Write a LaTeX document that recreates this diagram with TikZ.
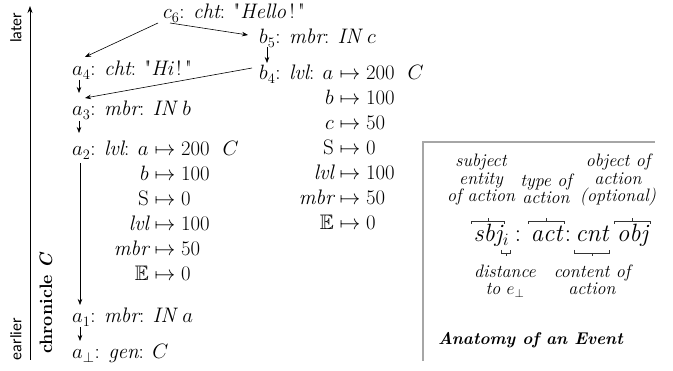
\documentclass[tikz,border=0pt]{standalone}
\usepackage{amsmath,amssymb}
\usepackage{fontspec}
\newfontfamily\carlito{Carlito}
\usetikzlibrary{arrows.meta,calc}
\newcommand\mi[1]{\mathit{#1}}
\newcommand\qt{\text{\textquotedbl}}
\newcommand\ovbr[1]{\draw[br] ($(#1.west|-ob)+(-2,3)$) -- ++(0,-3) -- ($(#1.east|-ob)+(2,0)$) -- ++(0,3); \draw[br] (#1.center|-ob) -- ++(0,-3);}
\newcommand\unbr[1]{\draw[br] ($(#1.west|-ub)+(-1,-3)$) -- ++(0,3) -- ($(#1.east|-ub)+(1,0)$) -- ++(0,-3); \draw[br] (#1.center|-ub) -- ++(0,3);}
\begin{document}
\begin{tikzpicture}[x=1pt,y=-1pt,
  ev/.style={anchor=base west, inner sep=0pt, font=\fontsize{21}{25}\selectfont},
  conn/.style={-{Stealth[length=6pt,width=4.5pt]}, line width=0.6pt},
  note/.style={inner sep=0pt, align=center, font=\itshape\fontsize{18}{17.5}\selectfont},
  fm/.style={anchor=base, inner sep=0pt, font=\fontsize{25}{25}\selectfont},
  br/.style={line width=0.6pt, black!80},
  side/.style={rotate=90, inner sep=0pt}]
\useasboundingbox (0,0) rectangle (673,371);

% time axis
\coordinate (axb) at (30,360);
\coordinate (axt) at (30,6);
\draw[-{Stealth[length=7pt,width=5pt]}, line width=0.8pt] (axb) -- (axt);
\node[side, font=\carlito\fontsize{16}{16}\selectfont] (later) at (16,28) {later};
\node[side, font=\carlito\fontsize{16}{16}\selectfont] (earlier) at (16,339) {earlier};
\node[side, font=\bfseries\fontsize{18}{18}\selectfont] (chron) at (46,303) {chronicle \textit{C}};

% events
\node[ev] (c6) at (163,19) {$c_6$: $\mi{cht}$: $\qt\mi{Hello}\,!\,\qt$};
\node[ev] (b5) at (259,44) {$b_5$: $\mi{mbr}$: $\mi{IN}\ c$};
\node[ev] (a4) at (72,76) {$a_4$: $\mi{cht}$: $\qt\mi{Hi}\,!\,\qt$};
\node[ev] (b4) at (259,80) {$b_4$: $\mi{lvl}$: $a$};
\node[ev] (b4m) at (b4.base east) {\begin{tabular}[t]{@{}l@{}}
  ${}\mapsto 200\hspace{13pt}C$\\
  \llap{$b$}${}\mapsto 100$\\
  \llap{$c$}${}\mapsto 50$\\
  \llap{$\mathrm{S}$}${}\mapsto 0$\\
  \llap{$\mi{lvl}$}${}\mapsto 100$\\
  \llap{$\mi{mbr}$}${}\mapsto 50$\\
  \llap{$\mathbb{E}$}${}\mapsto 0$
\end{tabular}};
\node[ev] (a3) at (72,116) {$a_3$: $\mi{mbr}$: $\mi{IN}\ b$};
\node[ev] (a2) at (72,156) {$a_2$: $\mi{lvl}$: $a$};
\node[ev] (a2m) at (a2.base east) {\begin{tabular}[t]{@{}l@{}}
  ${}\mapsto 200\hspace{13pt}C$\\
  \llap{$b$}${}\mapsto 100$\\
  \llap{$\mathrm{S}$}${}\mapsto 0$\\
  \llap{$\mi{lvl}$}${}\mapsto 100$\\
  \llap{$\mi{mbr}$}${}\mapsto 50$\\
  \llap{$\mathbb{E}$}${}\mapsto 0$
\end{tabular}};
\node[ev] (a1) at (72,323) {$a_1$: $\mi{mbr}$: $\mi{IN}\ a$};
\node[ev] (a0) at (72,359) {$a_\bot$: $\mi{gen}$: $C$};

% connectors
\draw[conn] ([shift={(-5,4)}]c6.base west) -- ([shift={(13,-19)}]a4.base west);
\draw[conn] ([shift={(7,4)}]c6.base west) -- ([shift={(-11,-9)}]b5.base west);
\draw[conn] ([shift={(8,3)}]b5.base west) -- ([shift={(8,-17)}]b4.base west);
\draw[conn] ([shift={(-7,-12)}]b4.base west) -- ([shift={(13,-18)}]a3.base west);
\draw[conn] ([shift={(7,4)}]a4.base west) -- ([shift={(7,-23)}]a3.base west);
\draw[conn] ([shift={(7,5)}]a3.base west) -- ([shift={(7,-23)}]a2.base west);
\draw[conn] ([shift={(8,7)}]a2.base west) -- ([shift={(8,-18)}]a1.base west);
\draw[conn] ([shift={(8,4)}]a1.base west) -- ([shift={(8,-18)}]a0.base west);

% anatomy box
\coordinate (bxb) at (423,361);
\coordinate (bxc) at (423,142);
\coordinate (bxr) at (655,142);
\draw[black!35, line width=1.2pt] (bxb) -- (bxc) -- (bxr);

\node[note] (subj) at (481,180) {subject\\entity\\of action};
\node[note] (typ) at (546,189) {type of\\action};
\node[note] (objn) at (618,180) {object of\\action\\(optional)};

\node[fm] (sbj) at (488,242) {$\mi{sbj}$};
\node[fm, anchor=base west] (sub) at (sbj.base east) {${}_i$};
\node[fm] (c1) at (518,242) {:};
\node[fm] (act) at (546.5,242) {$\mi{act}$};
\node[fm] (c2) at (568,242) {:};
\node[fm] (cnt) at (592,242) {$\mi{cnt}$};
\node[fm] (obj) at (632.5,242) {$\mi{obj}$};

\coordinate (ob) at (0,221);
\coordinate (ub) at (0,253);
\ovbr{sbj}
\ovbr{act}
\ovbr{obj}
\unbr{sub}
\unbr{cnt}

\node[note] (dist) at (505,281) {distance\\to $e_\bot$};
\node[note] (cont) at (592,280) {content of\\action};
\node[anchor=base west, inner sep=0pt, font=\bfseries\itshape\fontsize{17}{17}\selectfont] (anat) at (438,345) {Anatomy of an Event};
\end{tikzpicture}
\end{document}
